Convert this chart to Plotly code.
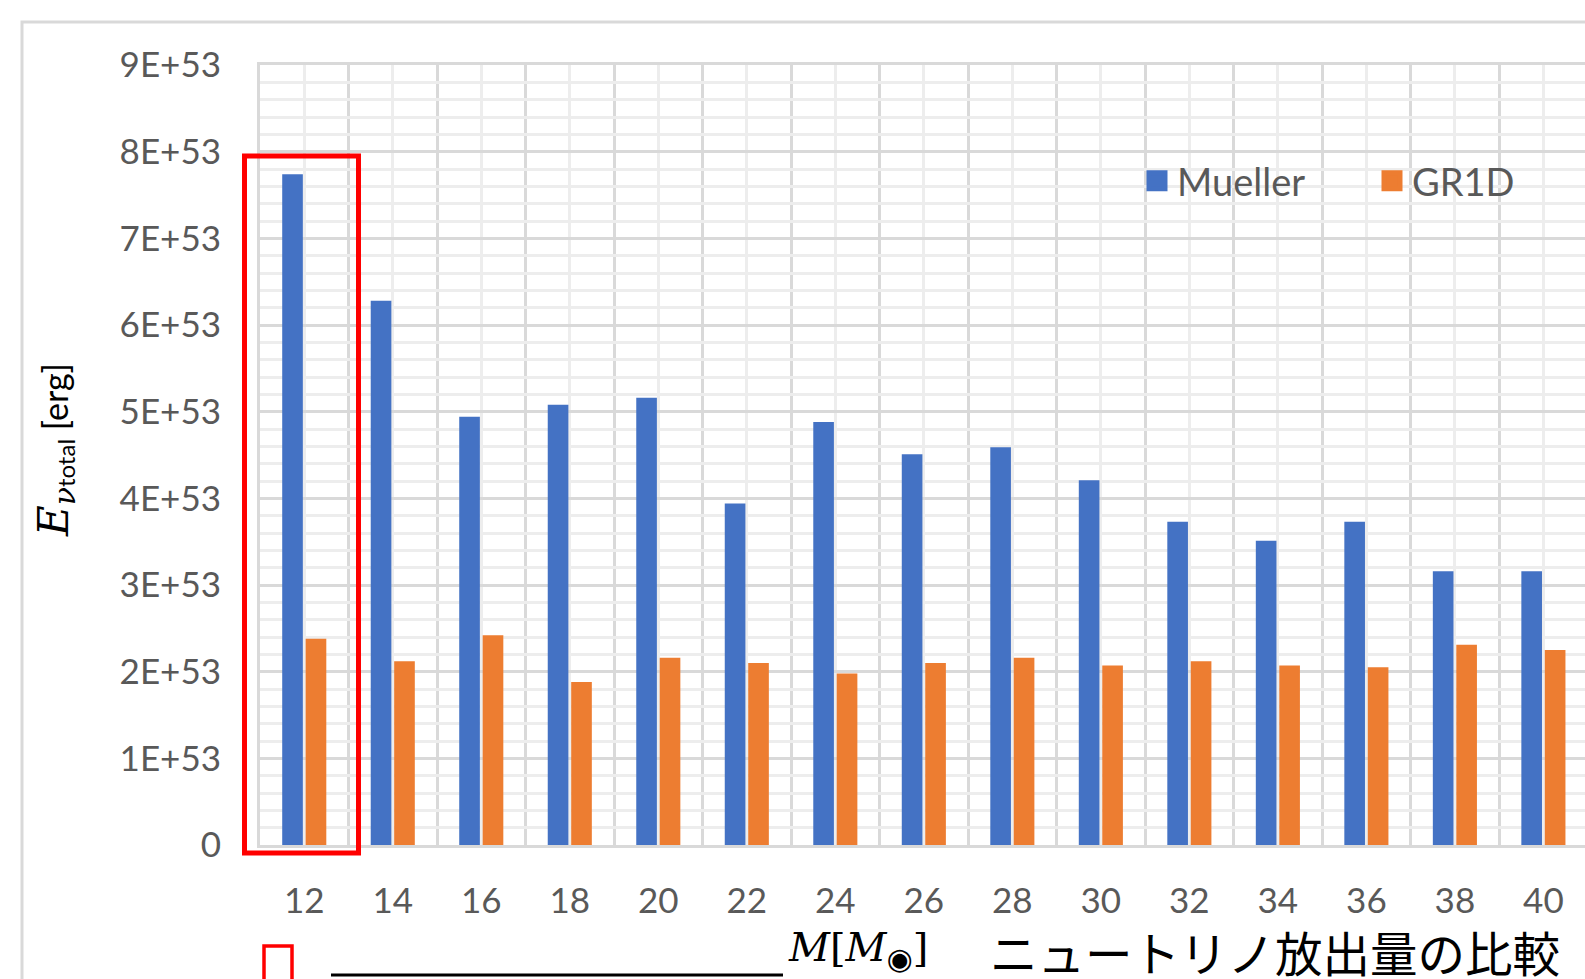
import plotly.graph_objects as go

# ---- data ----
masses = [12, 14, 16, 18, 20, 22, 24, 26, 28, 30, 32, 34, 36, 38, 40]
mueller = [7.74e53, 6.28e53, 4.94e53, 5.08e53, 5.16e53, 3.94e53, 4.88e53, 4.51e53,
           4.59e53, 4.21e53, 3.73e53, 3.51e53, 3.73e53, 3.16e53, 3.16e53]
gr1d = [2.38e53, 2.12e53, 2.42e53, 1.88e53, 2.16e53, 2.10e53, 1.98e53, 2.10e53,
        2.16e53, 2.07e53, 2.12e53, 2.07e53, 2.05e53, 2.31e53, 2.25e53]
y_tickvals = [0, 1e53, 2e53, 3e53, 4e53, 5e53, 6e53, 7e53, 8e53, 9e53]
y_ticktext = ["0", "1E+53", "2E+53", "3E+53", "4E+53", "5E+53", "6E+53", "7E+53", "8E+53", "9E+53"]
series_names = ["Mueller", "GR1D"]
colors = ["#4472C4", "#ED7D31"]

W, H = 1585, 979
def px(x):
    return x / W
def py(y):
    return 1 - y / H

GRAY = "#595959"
TICKFONT = dict(family="Lato", size=35, color=GRAY)

fig = go.Figure()
for name, vals, c in zip(series_names, [mueller, gr1d], colors):
    fig.add_trace(go.Bar(x=masses, y=vals, name=name, marker=dict(color=c, line=dict(width=0)),
                         showlegend=False, legendgroup=name))
for name, c in zip(series_names, colors):
    fig.add_trace(go.Scatter(x=[None], y=[None], mode="markers", name=name, legendgroup=name,
                             marker=dict(symbol="square", size=16, color=c, line=dict(color=c, width=5))))

step = masses[1] - masses[0]
x_lo = masses[0] - step / 2
x_hi = masses[0] + step * 14.47
bounds = [masses[0] - step / 2 + step * i for i in range(len(masses) + 1)]

fig.update_layout(
    width=W, height=H, autosize=False,
    margin=dict(l=0, r=0, t=0, b=0, pad=0, autoexpand=False),
    paper_bgcolor="white", plot_bgcolor="white",
    barmode="group", bargap=0.47, bargroupgap=0.12,
    font=dict(family="Lato", color=GRAY),
    xaxis=dict(
        domain=[px(260), 1], range=[x_lo, x_hi], automargin=False,
        tickmode="array", tickvals=masses, ticktext=[str(m) for m in masses],
        tickfont=TICKFONT, ticks="", ticklabelstandoff=23,
        showgrid=True, gridcolor="#ededed", gridwidth=3,
        minor=dict(tickmode="array", tickvals=bounds, showgrid=True, gridcolor="#d9d9d9", gridwidth=3, ticks=""),
        showline=True, linecolor="#d9d9d9", linewidth=3, mirror=True,
        zeroline=False, fixedrange=True,
    ),
    yaxis=dict(
        domain=[py(845), py(65)], range=[0, 9e53], automargin=False,
        tickmode="array", tickvals=y_tickvals, ticktext=y_ticktext,
        tickfont=TICKFONT, ticks="", ticklabelstandoff=29,
        showgrid=True, gridcolor="#d9d9d9", gridwidth=3,
        minor=dict(dtick=0.2e53, tick0=0, showgrid=True, gridcolor="#ededed", gridwidth=3, ticks=""),
        showline=True, linecolor="#d9d9d9", linewidth=3,
        zeroline=False, fixedrange=True,
    ),
    legend=dict(orientation="h", x=px(1137), xanchor="left", y=py(181), yanchor="middle",
                font=dict(family="Lato", size=38, color=GRAY), bgcolor="rgba(0,0,0,0)",
                entrywidth=190, entrywidthmode="pixels", itemclick=False, itemdoubleclick=False),
    showlegend=True,
)

shapes = []
# outer chart border (cut at right/bottom)
shapes.append(dict(type="rect", xref="paper", yref="paper", x0=px(22), x1=px(1700), y0=py(1100), y1=py(22),
                   line=dict(color="#d9d9d9", width=3), fillcolor="rgba(0,0,0,0)", layer="below"))
# red highlight rectangle
shapes.append(dict(type="rect", xref="paper", yref="paper", x0=px(244.5), x1=px(358.5), y0=py(853), y1=py(156),
                   line=dict(color="#FF0000", width=5), fillcolor="rgba(0,0,0,0)"))
# small red box at bottom
shapes.append(dict(type="rect", xref="paper", yref="paper", x0=px(264), x1=px(292), y0=py(1000), y1=py(946),
                   line=dict(color="#FF0000", width=3.5), fillcolor="rgba(0,0,0,0)"))
# black underline
shapes.append(dict(type="line", xref="paper", yref="paper", x0=px(331), x1=px(783), y0=py(975), y1=py(975),
                   line=dict(color="black", width=3)))
fig.update_layout(shapes=shapes)

annotations = [
    dict(xref="paper", yref="paper", x=px(55), y=py(450), textangle=-90, showarrow=False,
         xanchor="center", yanchor="middle",
         text="<span style='font-family:DejaVu Serif;font-size:42px'><i>E</i></span>"
              "<sub><span style='font-family:DejaVu Serif;font-size:30px'><i>ν</i></span>"
              "<span style='font-size:24px'>total</span></sub>"
              "<span style='font-size:34px'> [erg]</span>",
         font=dict(family="Lato", size=34, color="black")),
    dict(xref="paper", yref="paper", x=px(858), y=py(950), showarrow=False, xanchor="center", yanchor="middle",
         text="<i>M</i>[<i>M</i><sub><span style='font-family:DejaVu Sans;font-size:30px'>◉</span></sub>]",
         font=dict(family="DejaVu Serif", size=40, color="black")),
    dict(xref="paper", yref="paper", x=px(988), y=py(951), showarrow=False, xanchor="left", yanchor="middle",
         text="ニュートリノ放出量の比較",
         font=dict(family="Noto Sans CJK JP", size=47.5, color="black")),
]
fig.update_layout(annotations=annotations)

fig.write_html("out.html", config={"displayModeBar": False},
               post_script="document.body.style.margin='0';document.body.style.overflow='hidden';")
